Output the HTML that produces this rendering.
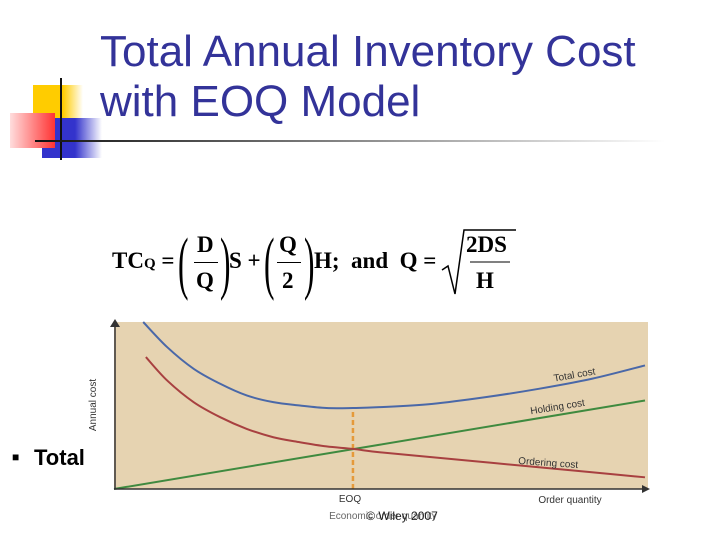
<!DOCTYPE html>
<html><head><meta charset="utf-8"><style>
body{margin:0;width:720px;height:540px;background:#fff;position:relative;overflow:hidden;font-family:"Liberation Sans",sans-serif}
.abs{position:absolute}
</style></head><body>
<div class="abs" style="left:33px;top:85px;width:50px;height:34px;background:linear-gradient(90deg,#fc0 60%,#fff)"></div>
<div class="abs" style="left:42px;top:118px;width:60px;height:40px;background:linear-gradient(90deg,#33c 55%,#fff)"></div>
<div class="abs" style="left:10px;top:113px;width:45px;height:35px;background:linear-gradient(90deg,#fdd,#f33)"></div>
<div class="abs" style="left:60px;top:78px;width:2px;height:82px;background:#111"></div>
<div class="abs" style="left:35px;top:140px;width:630px;height:2px;background:linear-gradient(90deg,#111,#888 50%,#fff)"></div>
<div class="abs" style="left:100px;top:27px;font-size:44px;line-height:50px;color:#333399;white-space:nowrap">Total Annual Inventory Cost<br>with EOQ Model</div>
<div class="abs" style="left:12px;top:450px;font-size:12px;color:#000">■</div>
<div class="abs" style="left:34px;top:445px;font-size:22px;font-weight:bold">Total</div>
<div class="abs" style="left:112px;top:228px;font-family:'Liberation Serif',serif;font-weight:bold;font-size:23px;white-space:nowrap">
<span style="position:absolute;top:20px">TC<span style="font-size:15px">Q</span>&nbsp;=</span>
<span style="position:absolute;left:66px;top:-4px;font-size:70px;font-weight:normal;transform:scaleX(.45);transform-origin:left">(</span>
<span style="position:absolute;left:85px;top:4px">D</span><span style="position:absolute;left:82px;top:34px;width:24px;height:1px;background:#000"></span><span style="position:absolute;left:84px;top:40px">Q</span>
<span style="position:absolute;left:108px;top:-4px;font-size:70px;font-weight:normal;transform:scaleX(.45);transform-origin:left">)</span>
<span style="position:absolute;left:117px;top:20px">S +</span>
<span style="position:absolute;left:152px;top:-4px;font-size:70px;font-weight:normal;transform:scaleX(.45);transform-origin:left">(</span>
<span style="position:absolute;left:167px;top:4px">Q</span><span style="position:absolute;left:165px;top:34px;width:24px;height:1px;background:#000"></span><span style="position:absolute;left:170px;top:40px">2</span>
<span style="position:absolute;left:192px;top:-4px;font-size:70px;font-weight:normal;transform:scaleX(.45);transform-origin:left">)</span>
<span style="position:absolute;left:202px;top:20px">H;&nbsp; and&nbsp; Q =</span>
<svg style="position:absolute;left:328px;top:0" width="80" height="70"><polyline points="2,42 8,38 15,66 24,2 76,2" fill="none" stroke="#000" stroke-width="1.5"/><line x1="30" y1="34" x2="70" y2="34" stroke="#000"/></svg>
<span style="position:absolute;left:354px;top:4px">2DS</span><span style="position:absolute;left:364px;top:40px">H</span>
</div>
<svg class="abs" style="left:0;top:0" width="720" height="540">
<rect x="88" y="320" width="560" height="203" fill="#fff"/>
<rect x="114" y="322" width="534" height="167" fill="#e6d3b1"/>
<g id="g"></g>
<line x1="115" y1="489" x2="115" y2="324" stroke="#333" stroke-width="1.5"/>
<polygon points="115,319 110,327 120,327" fill="#333"/>
<line x1="114" y1="489" x2="645" y2="489" stroke="#333" stroke-width="1.5"/>
<polygon points="650,489 642,485 642,493" fill="#333"/>
<text x="96" y="405" transform="rotate(-90 96 405)" font-size="10" fill="#333" text-anchor="middle">Annual cost</text>
<text x="350" y="502" font-size="10" fill="#333" text-anchor="middle">EOQ</text>
<text x="570" y="503" font-size="10" fill="#333" text-anchor="middle">Order quantity</text>
<text x="383" y="519" font-size="10" fill="#666" text-anchor="middle">Economic order quantity</text>
<text x="402" y="520" font-size="12" fill="#222" text-anchor="middle">© Wiley 2007</text>
<text x="575" y="378" font-size="10" fill="#333" text-anchor="middle" transform="rotate(-10 575 378)">Total cost</text>
<text x="558" y="410" font-size="10" fill="#333" text-anchor="middle" transform="rotate(-9 558 410)">Holding cost</text>
<text x="548" y="466" font-size="10" fill="#333" text-anchor="middle" transform="rotate(4 548 466)">Ordering cost</text>
</svg>
<script>
const quantities=[6,10,15,20,25,30,35,40,45,50,60,70,80,90,100];
const orderingCost=[79,65,52,43,36,31,28,25.5,24,22,19,16,13,10,7];
const holdingQ=[0,100];
const holdingCost=[0,53];
const totalQ=[5.5,10,15,20,25,30,35,40,45,50,60,70,80,90,100];
const totalCost=[100,85,72,63,56,52,50,48.5,48.5,49,51,55,60,66,74];
const eoq=[45];
const eoqCost=[48.5];
const xs=q=>114+q/100*531, ys=v=>489-v/100*167;
const g=document.getElementById('g');
const NS='http://www.w3.org/2000/svg';
function line(qs,vs,color,name){
 const pts=qs.map((q,i)=>[xs(q),ys(vs[i])]);
 let d='M'+pts[0][0]+','+pts[0][1];
 for(let i=0;i<pts.length-1;i++){
  const p0=pts[i-1]||pts[i],p1=pts[i],p2=pts[i+1],p3=pts[i+2]||p2;
  d+=' C'+(p1[0]+(p2[0]-p0[0])/6)+','+(p1[1]+(p2[1]-p0[1])/6)+' '+(p2[0]-(p3[0]-p1[0])/6)+','+(p2[1]-(p3[1]-p1[1])/6)+' '+p2[0]+','+p2[1];
 }
 const p=document.createElementNS(NS,'path');
 p.setAttribute('d',d);
 p.setAttribute('fill','none');p.setAttribute('stroke',color);p.setAttribute('stroke-width','2');
 
 
 g.appendChild(p);
}
const d=document.createElementNS(NS,'line');
d.setAttribute('x1',xs(eoq[0]));d.setAttribute('x2',xs(eoq[0]));
d.setAttribute('y1',ys(0));d.setAttribute('y2',ys(eoqCost[0]));
d.setAttribute('stroke','#e59a3a');d.setAttribute('stroke-width','2.5');d.setAttribute('stroke-dasharray','5,3');


g.appendChild(d);
line(holdingQ,holdingCost,'#3f8a3f','holding-cost-line');
line(quantities,orderingCost,'#a84040','ordering-cost-line');
line(totalQ,totalCost,'#4a68a8','total-cost-line');
</script>
</body></html>
